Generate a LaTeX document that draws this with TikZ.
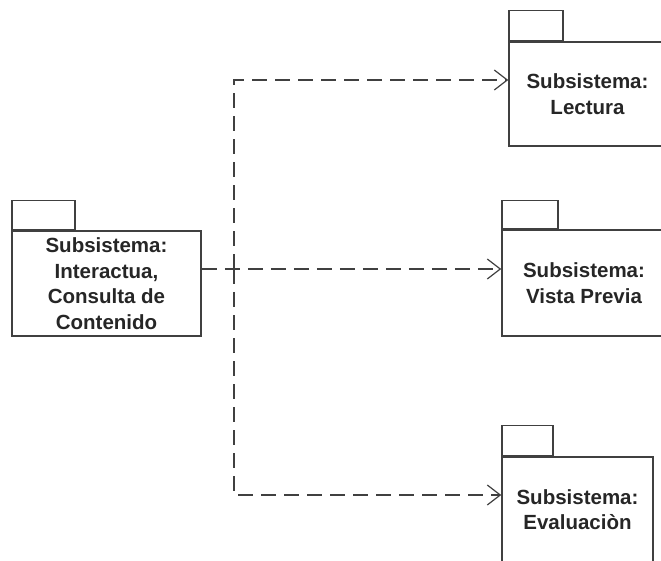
\documentclass[tikz,border=0pt]{standalone}
\usepackage{fontspec}
\setmainfont{Liberation Sans}
\usetikzlibrary{arrows.meta,positioning,calc}
\definecolor{ink}{HTML}{404040}
\definecolor{txt}{HTML}{262626}

\begin{document}
\begin{tikzpicture}[x=1pt, y=-1pt,
  pkg/.style={draw=ink, line width=1.5pt, align=center, inner sep=0pt,
              text=txt, font=\bfseries\fontsize{20.5}{25.5}\selectfont},
  tab/.style={draw=ink, line width=1.5pt, anchor=south west, inner sep=0pt},
  dep/.style={ink, line width=2pt, dash pattern=on 15pt off 8pt},
  arr/.style={-{Straight Barb[length=13pt, width=20pt, line width=1.2pt]}}]
  \useasboundingbox (0,0) rectangle (661,561);
  \clip (0,0) rectangle (661,561);
  % packages
  \node[pkg, minimum width=189pt, minimum height=105pt] (src) at (106.5,283.5)
    {Subsistema:\\Interactua,\\Consulta de\\Contenido};
  \node[tab, minimum width=63pt, minimum height=29pt] at (src.north west) {};
  \node[pkg, minimum width=157pt, minimum height=104pt] (lect) at (587.5,94)
    {Subsistema:\\Lectura};
  \node[tab, minimum width=54pt, minimum height=30pt] at (lect.north west) {};
  \node[pkg, minimum width=164pt, minimum height=106pt] (vp) at (584,283)
    {Subsistema:\\Vista Previa};
  \node[tab, minimum width=56pt, minimum height=28pt] at (vp.north west) {};
  \node[pkg, minimum width=151pt, minimum height=105pt] (eval) at (577.5,509.5)
    {Subsistema:\\Evaluaciòn};
  \node[tab, minimum width=51pt, minimum height=30pt] at (eval.north west) {};
  % dependencies
  \coordinate (jn) at (234,269);
  \coordinate (tp) at (234,80);
  \coordinate (bt) at (234,495);
  \draw[dep, arr] (src.east |- jn) -- (vp.west |- jn);
  \draw[dep, arr] (jn) -- (tp) -- (lect.west |- tp);
  \draw[dep, arr] (jn) -- (bt) -- (eval.west |- bt);
\end{tikzpicture}
\end{document}
